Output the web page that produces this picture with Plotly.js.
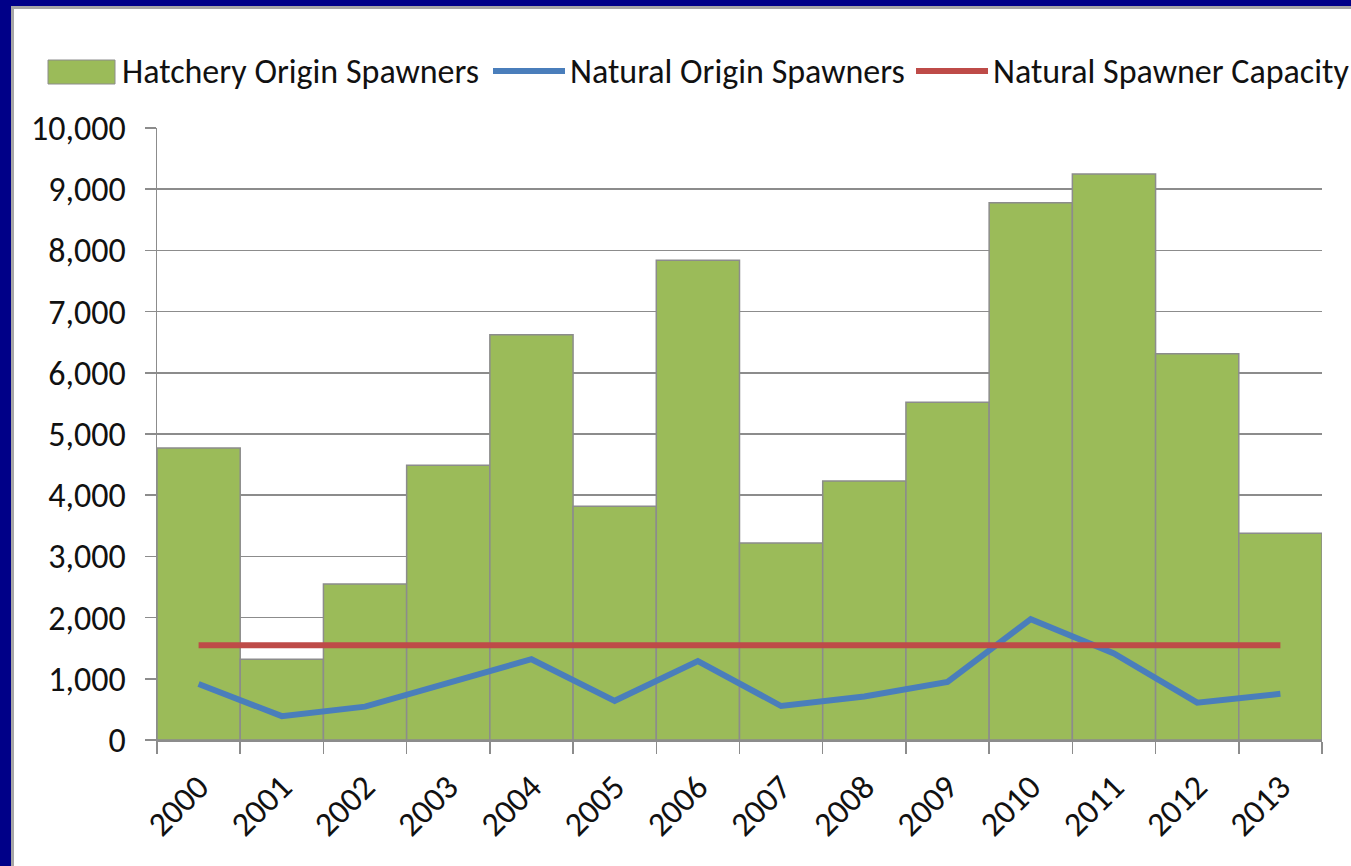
<!DOCTYPE html>
<html>
<head>
<meta charset="utf-8">
<script src="https://cdn.plot.ly/plotly-3.0.1.min.js"></script>
<style>
  html, body { margin: 0; padding: 0; }
  body { width: 1351px; height: 866px; background: #000088; position: relative; overflow: hidden; }
  #frame { position: absolute; left: 11px; top: 6px; right: -5px; bottom: -5px;
           background: #fff; border-left: 3px solid #a6a6a6; border-top: 3px solid #a6a6a6; }
  #chart { position: absolute; left: 0; top: 0; width: 1351px; height: 866px; }
</style>
</head>
<body>
<div id="frame"></div>
<div id="chart"></div>
<script>
var years = ['2000', '2001', '2002', '2003', '2004', '2005', '2006',
             '2007', '2008', '2009', '2010', '2011', '2012', '2013'];
var hatchery = [4770, 1320, 2550, 4490, 6620, 3820, 7840,
                3220, 4230, 5520, 8780, 9250, 6310, 3380];
var natural = [915, 390, 545, 930, 1320, 640, 1290,
               555, 710, 950, 1975, 1415, 610, 755];
var capacity = [1550, 1550, 1550, 1550, 1550, 1550, 1550,
                1550, 1550, 1550, 1550, 1550, 1550, 1550];
var yTicks = [0, 1000, 2000, 3000, 4000, 5000, 6000, 7000, 8000, 9000, 10000];
var yTickText = ['0', '1,000', '2,000', '3,000', '4,000', '5,000', '6,000',
                 '7,000', '8,000', '9,000', '10,000'];
var seriesNames = ['Hatchery Origin Spawners', 'Natural Origin Spawners', 'Natural Spawner Capacity'];

var green = '#9bbb59', blue = '#4a7ebb', red = '#be4b48', grey = '#8c8c8c';
var font = 'Carlito, Calibri, Lato, sans-serif';
var fsize = 34;

// plot area in page pixels
var L = 157, R = 1322, T = 128, B = 740;
function px(x) { return (x - L) / (R - L); }
function py(y) { return (B - y) / (B - T); }

var traces = [
  {
    x: years, y: hatchery, type: 'bar', name: seriesNames[0],
    marker: { color: green, line: { color: grey, width: 1.5 } }
  },
  {
    x: years, y: natural, type: 'scatter', mode: 'lines', name: seriesNames[1],
    line: { color: blue, width: 6 }
  },
  {
    x: years, y: capacity, type: 'scatter', mode: 'lines', name: seriesNames[2],
    line: { color: red, width: 6 }
  }
];

// hand-made legend, Excel style
var legendShapes = [
  { type: 'rect', xref: 'paper', yref: 'paper', x0: px(48), x1: px(115), y0: py(84), y1: py(60),
    fillcolor: green, line: { color: grey, width: 1 } },
  { type: 'line', xref: 'paper', yref: 'paper', x0: px(493), x1: px(565), y0: py(71), y1: py(71),
    line: { color: blue, width: 6 } },
  { type: 'line', xref: 'paper', yref: 'paper', x0: px(916), x1: px(988), y0: py(71), y1: py(71),
    line: { color: red, width: 6 } }
];
var legendX = [120, 568, 991];
var legendText = seriesNames.map(function (s, i) {
  return { text: s, xref: 'paper', yref: 'paper', x: px(legendX[i]), y: py(71),
           xanchor: 'left', yanchor: 'middle', showarrow: false,
           font: { family: font, size: fsize, color: '#111' } };
});

var layout = {
  width: 1351, height: 866,
  margin: { l: L, r: 1351 - R, t: T, b: 866 - B },
  paper_bgcolor: 'rgba(0,0,0,0)',
  plot_bgcolor: 'rgba(0,0,0,0)',
  showlegend: false,
  bargap: 0,
  font: { family: font, size: fsize, color: '#111' },
  xaxis: {
    type: 'category', tickangle: -45, tickson: 'boundaries',
    ticks: 'outside', ticklen: 12, tickcolor: grey, tickwidth: 1.5,
    showline: true, linecolor: grey, linewidth: 1.5, showgrid: false,
    ticklabelstandoff: 12,
    tickfont: { family: font, size: fsize, color: '#111' }
  },
  yaxis: {
    range: [0, 10000], tickvals: yTicks, ticktext: yTickText,
    ticks: 'outside', ticklen: 11, tickcolor: grey, tickwidth: 1.5,
    showline: true, linecolor: grey, linewidth: 1.5,
    showgrid: true, gridcolor: grey, gridwidth: 1.5, zeroline: false,
    ticklabelstandoff: 12,
    tickfont: { family: font, size: fsize, color: '#111' }
  },
  shapes: legendShapes,
  annotations: legendText
};

Plotly.newPlot('chart', traces, layout, { displayModeBar: false, staticPlot: true });
</script>
</body>
</html>
